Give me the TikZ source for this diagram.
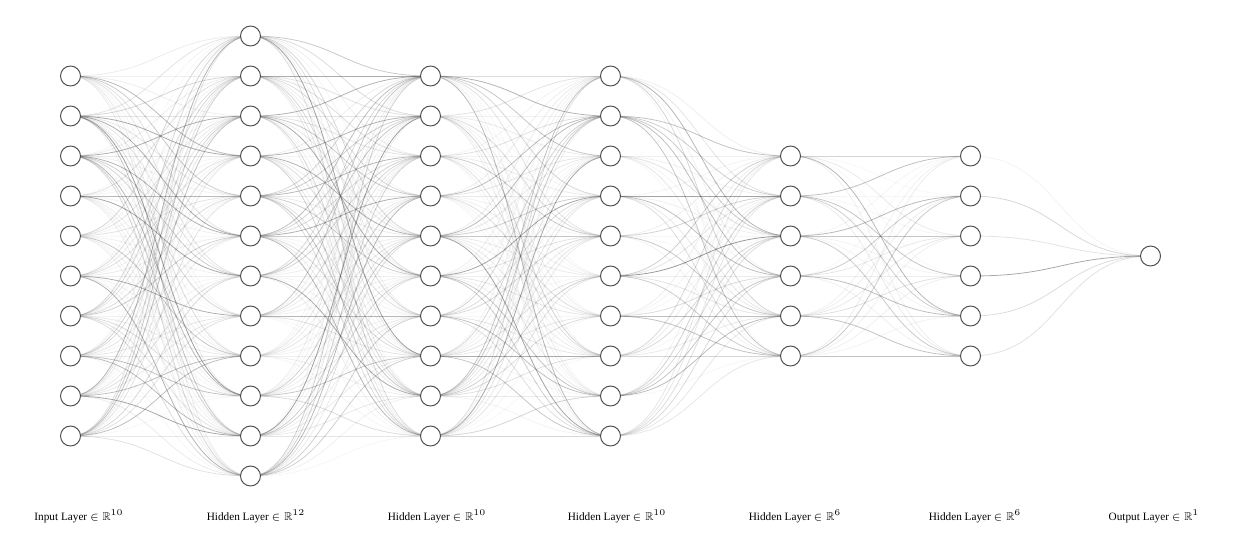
\documentclass[tikz,border=0pt]{standalone}
\usepackage{amssymb}
\usepackage{fontspec}
\setmainfont{Liberation Serif}
\usepackage{tikz}
\usetikzlibrary{backgrounds}

\tikzset{
  neuron/.style={circle, draw=black!70, fill=white, line width=0.55pt, minimum size=0.4cm, inner sep=0pt},
  synapse/.style={line width=0.45pt, draw=black!75},
  layerlabel/.style={font=\fontsize{6.4}{7.5}\selectfont, anchor=base}
}
\newcommand{\dimR}[1]{$\in\mathbb{R}^{\scriptscriptstyle #1}$}

\begin{document}
\begin{tikzpicture}[x=0.02cm, y=-0.02cm]
			\useasboundingbox (0,0) rectangle (1250,551);
			\pgfmathsetseed{7}
			\foreach \l/\n in {1/10,2/12,3/10,4/10,5/6,6/6,7/1}{
				\foreach \i in {1,...,\n}{
					\node[neuron] (n-\l-\i) at ({70.5+180*(\l-1)}, {256+40*(\i-(\n+1)/2)}) {};
				}
			}
			\begin{scope}[on background layer]
				\foreach \l/\k/\n/\m in {1/2/10/12, 2/3/12/10, 3/4/10/10, 4/5/10/6, 5/6/6/6, 6/7/6/1}{
					\foreach \i in {1,...,\n}{
						\foreach \j in {1,...,\m}{
							\pgfmathsetmacro\w{0.04+0.52*rnd*rnd}
							\draw[synapse, draw opacity=\w] (n-\l-\i.center) .. controls +(90,0) and +(-90,0) .. (n-\k-\j.center);
						}
					}
				}
			\end{scope}
			\node[layerlabel] (lab-1) at (79,520) {Input Layer \dimR{10}};
			\node[layerlabel] (lab-2) at (256,520) {Hidden Layer \dimR{12}};
			\node[layerlabel] (lab-3) at (437,520) {Hidden Layer \dimR{10}};
			\node[layerlabel] (lab-4) at (617,520) {Hidden Layer \dimR{10}};
			\node[layerlabel] (lab-5) at (795,520) {Hidden Layer \dimR{6}};
			\node[layerlabel] (lab-6) at (975,520) {Hidden Layer \dimR{6}};
			\node[layerlabel] (lab-7) at (1154,520) {Output Layer \dimR{1}};
		\end{tikzpicture}
\end{document}
